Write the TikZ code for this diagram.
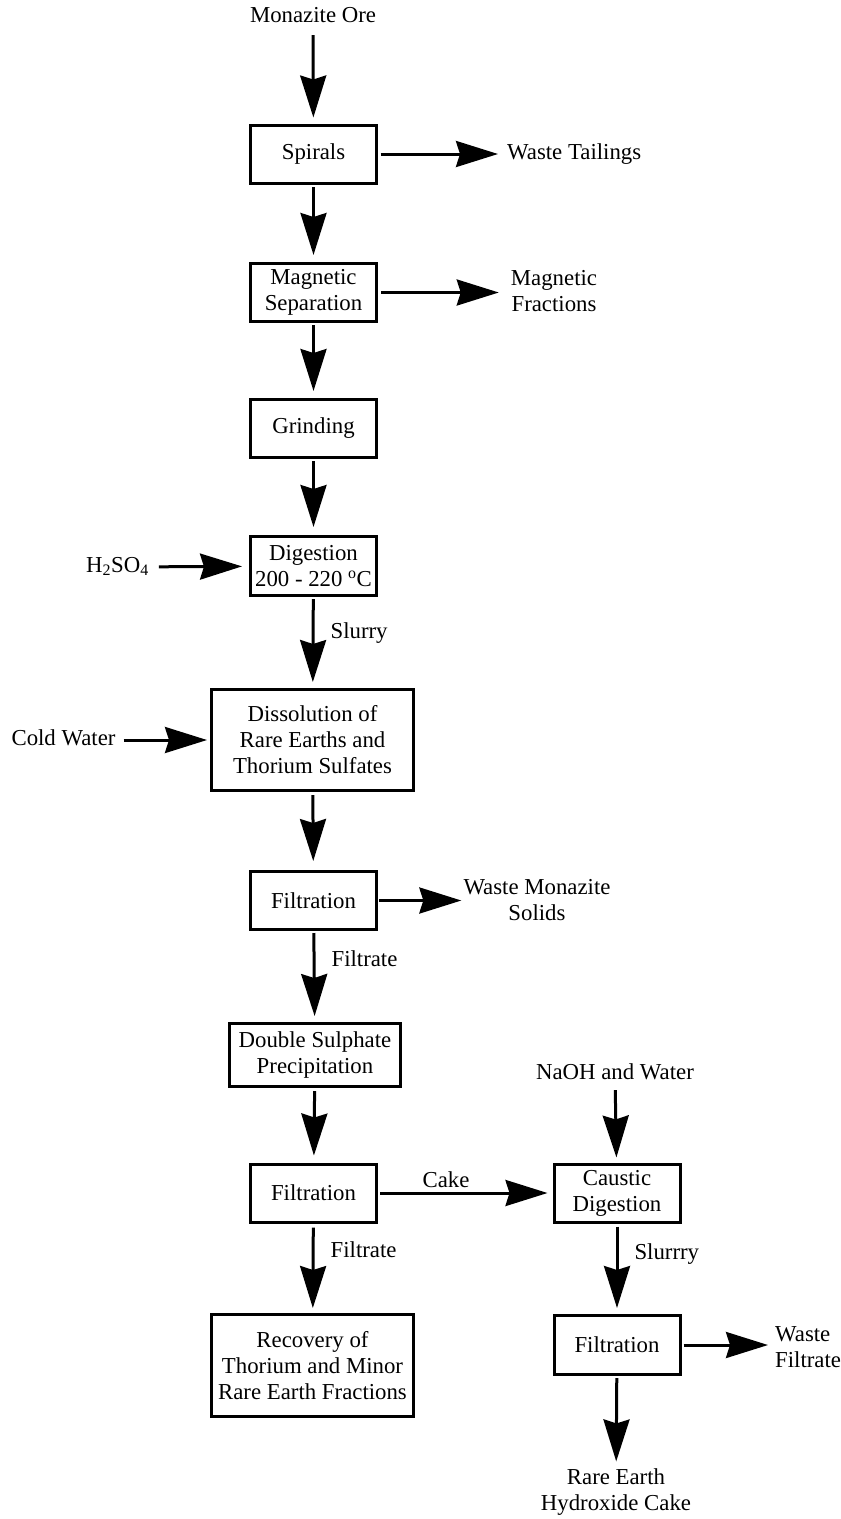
\documentclass[tikz,border=0pt]{standalone}
\usepackage{fontspec}
\setmainfont{Liberation Serif}
\usetikzlibrary{arrows.meta}

\begin{document}
\begin{tikzpicture}[x=1pt, y=-1pt,
  every node/.style={font=\fontsize{22.8}{26}\selectfont, align=center, inner sep=0pt},
  stage/.style={draw, line width=3pt, minimum width=126pt, minimum height=58pt},
  wide/.style={stage, minimum width=202pt, minimum height=101pt},
  word/.style={text height=15pt, text depth=4pt},
  flow/.style={line width=3pt, -{Stealth[length=42pt, width=26pt, inset=4pt]}},
  side/.style={word, anchor=west, xshift=16pt}
]
\useasboundingbox (0,0) rectangle (841,1519);

% process stages, left column
\node[stage] (spirals) at (313.5,154)  {Spirals};
\node[stage] (magsep)  at (313.5,292.5) {Magnetic\\Separation};
\node[stage] (grind)   at (313.5,428.5) {Grinding};
\node[stage, minimum height=59pt] (digest) at (313.5,566) {Digestion\\200 - 220 \textsuperscript{o}C};
\node[wide]  (dissol)  at (312.5,740)  {Dissolution of\\Rare Earths and\\Thorium Sulfates};
\node[stage] (filt1)   at (313.5,900.5) {Filtration};
\node[stage, minimum width=171pt, minimum height=63pt] (dsp) at (315,1055) {Double Sulphate\\Precipitation};
\node[stage] (filt2)   at (313.5,1193) {Filtration};
\node[wide, minimum height=102pt] (recov) at (312.5,1365.5) {Recovery of\\Thorium and Minor\\Rare Earth Fractions};

% process stages, right column
\node[stage] (caustic) at (617,1193)   {Caustic\\Digestion};
\node[stage, minimum height=59pt] (filt3) at (617,1345) {Filtration};

% feeds and products
\node[word] (ore)   at (313,17)     {Monazite Ore};
\node[word, anchor=west] (tail) at (507,154) {Waste Tailings};
\node (magfr) at (554,291.5)        {Magnetic\\Fractions};
\node[word] (acid)  at (117.5,567)  {H\textsubscript{2}SO\textsubscript{4}};
\node[word] (cold)  at (63.5,740)   {Cold Water};
\node (wms)   at (537,900)          {Waste Monazite\\Solids};
\node[word] (naoh)  at (615,1074)   {NaOH and Water};
\node[anchor=west, align=left] (wf) at (775,1347) {Waste\\Filtrate};
\node (rehc)  at (616,1492.5)       {Rare Earth\\Hydroxide Cake};

% main flow
\draw[flow, shorten <=8.5pt, shorten >=6pt] (ore) -- (spirals);
\draw[flow, shorten <=2.5pt, shorten >=7pt] (spirals) -- (magsep);
\draw[flow, shorten <=2pt, shorten >=7pt] (magsep) -- (grind);
\draw[flow, shorten <=2pt, shorten >=8pt] (grind) -- (digest);
\draw[flow, shorten <=2pt, shorten >=6pt] (digest) -- node[side, pos=0.4] {Slurry} (dissol);
\draw[flow, shorten <=3pt, shorten >=9pt] (dissol) -- (filt1);
\draw[flow, shorten <=2pt, shorten >=6pt] (filt1) -- node[side, pos=0.33] {Filtrate} (dsp);
\draw[flow, shorten <=3pt, shorten >=7pt] (dsp) -- (filt2);
\draw[flow, shorten <=4pt, shorten >=5pt] (filt2) -- node[side, pos=0.32] {Filtrate} (recov);
\draw[flow, shorten <=2pt, shorten >=5pt] (filt2) -- node[word, pos=0.39, yshift=11pt] {Cake} (caustic);
\draw[flow, shorten <=3pt, shorten >=6pt] (caustic) -- node[side, pos=0.34] {Slurrry} (filt3);
\draw[flow, shorten <=2pt, shorten >=7.5pt] (filt3) -- (rehc);

% side streams
\draw[flow, shorten <=2.5pt, shorten >=9pt] (spirals) -- (tail);
\draw[flow, shorten <=3pt, shorten >=12pt] (magsep.east) -- (magsep.east -| magfr.west);
\draw[flow, shorten <=10pt, shorten >=7pt] (acid) -- (digest);
\draw[flow, shorten <=8pt, shorten >=3pt] (cold) -- (dissol);
\draw[flow, shorten <=1pt, shorten >=2pt] (filt1.east) -- (filt1.east -| wms.west);
\draw[flow, shorten <=6.5pt, shorten >=5pt] (naoh) -- (caustic);
\draw[flow, shorten <=2pt, shorten >=7pt] (filt3) -- (filt3 -| wf.west);
\end{tikzpicture}
\end{document}
